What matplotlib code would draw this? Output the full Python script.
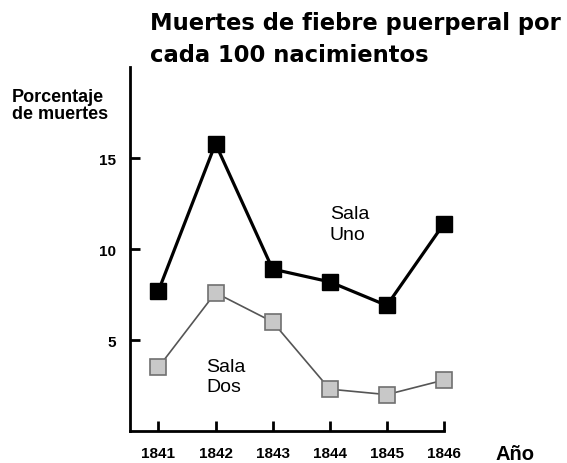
import matplotlib.pyplot as plt

plt.rcParams['font.family'] = ['Liberation Sans', 'DejaVu Sans']

years = [1841, 1842, 1843, 1844, 1845, 1846]
sala_uno = [7.7, 15.8, 8.9, 8.2, 6.9, 11.4]
sala_dos = [3.5, 7.6, 6.0, 2.3, 2.0, 2.8]
yticks = [5, 10, 15]

fig = plt.figure(figsize=(5.67, 4.64), dpi=100)
ax = fig.add_axes([0.229, 0.069, 0.559, 0.784])

ax.plot(years, sala_dos, color='#555555', lw=1.2, marker='s', ms=11.5,
        mfc='#c8c8c8', mec='#707070', mew=1.2, zorder=3, clip_on=False)
ax.plot(years, sala_uno, color='black', lw=2.3, marker='s', ms=11.5,
        mfc='black', mec='black', zorder=4, clip_on=False)

ax.set_xlim(1840.5, 1846.05)
ax.set_ylim(0, 20)

for side in ['top', 'right']:
    ax.spines[side].set_visible(False)
for side in ['left', 'bottom']:
    ax.spines[side].set_linewidth(2)
ax.spines['bottom'].set_bounds(1840.5, 1846)

ax.set_xticks(years)
ax.set_yticks(yticks)
ax.tick_params(direction='in', length=7, width=2)
ax.tick_params(axis='x', pad=11)
ax.tick_params(axis='y', pad=10)
for lab in ax.get_xticklabels() + ax.get_yticklabels():
    lab.set_fontsize(11)
    lab.set_fontweight('bold')

ax.text(1844.0, 12.4, 'Sala\nUno', fontsize=14, va='top', ha='left', linespacing=1.25)
ax.text(1841.84, 4.0, 'Sala\nDos', fontsize=14, va='top', ha='left', linespacing=1.2)

# title and axis captions, one line at a time on fixed baselines
title_font = dict(family='DejaVu Sans', fontsize=16.3, fontweight='bold', va='baseline', ha='left')
fig.text(150 / 567, 1 - 30 / 464, 'Muertes de fiebre puerperal por', **title_font)
fig.text(150 / 567, 1 - 62 / 464, 'cada 100 nacimientos', **title_font)

ylab_font = dict(fontsize=13, fontweight='bold', va='baseline', ha='left')
fig.text(12 / 567, 1 - 102 / 464, 'Porcentaje', **ylab_font)
fig.text(12 / 567, 1 - 119 / 464, 'de muertes', **ylab_font)

fig.text(495 / 567, 1 - 460 / 464, 'Año', fontsize=14.5, fontweight='bold', va='baseline', ha='left')

fig.savefig('out.png', dpi=100)
